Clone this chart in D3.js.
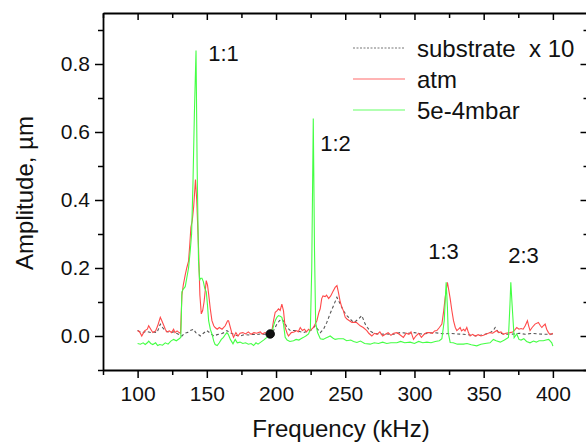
<!DOCTYPE html>
<html>
<head>
<meta charset="utf-8">
<script src="https://cdn.jsdelivr.net/npm/d3@7"></script>
<style>
  body { margin: 0; background: #fff; }
  svg { font-family: "Liberation Sans", Arial, sans-serif; }
</style>
</head>
<body>
<div id="chart"></div>
<script>
// Frequency (kHz) / amplitude (um)
const subFreq = [100, 102, 104, 106, 108, 110, 112, 114, 115.5, 116.4, 118, 120, 122, 124, 126, 128, 130, 132, 134, 136, 138, 140.4, 142, 143.5, 145.3, 147.5, 150, 152.5, 155, 157.5, 160, 162.5, 164.5, 166.5, 168.9, 171, 174, 177, 180, 183, 186, 189, 192, 195, 198.2, 200.6, 202.5, 204.2, 206, 208, 210.3, 213, 216, 219.9, 222.5, 225, 228.3, 230, 232, 234.3, 236.7, 239, 241.5, 244, 246.4, 248.7, 251.2, 253.5, 256, 258, 260, 262, 264.4, 266, 268, 271, 275, 280, 285, 289.7, 295, 300, 305, 310, 313.7, 318, 322, 326, 330, 335.4, 340, 345, 350, 354.6, 357, 358.3, 360.7, 364, 368, 372, 376, 380, 385, 390, 395, 400];
const subAmp = [0.016, 0.012, 0.01, 0.014, 0.012, 0.01, 0.012, 0.01, 0.025, 0.035, 0.025, 0.016, 0.012, 0.01, 0.012, 0.008, 0.004, 0.0, 0.008, 0.01, 0.016, 0.02, 0.01, 0.006, 0.0, 0.008, 0.016, 0.008, 0.0, 0.004, 0.006, 0.01, 0.016, 0.01, 0.006, 0.002, 0.0, 0.004, 0.003, 0.005, 0.004, 0.006, 0.005, 0.004, 0.016, 0.035, 0.045, 0.05, 0.04, 0.025, 0.016, 0.016, 0.014, 0.01, 0.014, 0.016, 0.03, 0.02, 0.01, 0.02, 0.04, 0.065, 0.089, 0.114, 0.094, 0.074, 0.06, 0.05, 0.04, 0.045, 0.052, 0.06, 0.035, 0.025, 0.014, 0.008, 0.005, 0.006, 0.005, 0.01, 0.008, 0.01, 0.006, 0.008, 0.01, 0.008, 0.006, 0.008, 0.006, 0.005, 0.003, 0.0, 0.004, 0.01, 0.016, 0.025, 0.01, 0.006, 0.005, 0.006, 0.008, 0.005, 0.008, 0.006, 0.005, 0.006];

const atmFreq = [100, 101.5, 103, 105, 107, 108, 109.5, 111, 113, 114.5, 116.4, 117.5, 119, 120, 121, 123, 124.5, 126, 127, 128.5, 130, 131, 132, 133, 134.4, 135.5, 136.8, 137.7, 138.5, 139.5, 140.5, 141.8, 142.7, 144, 145, 146, 147, 148, 149.6, 150.5, 151.3, 152.5, 153.7, 155, 156, 157.5, 159, 161, 163.3, 165, 165.7, 167, 168, 169.3, 171, 172.5, 174, 176, 178, 180, 182, 184, 186, 188.6, 190, 192, 194, 195.8, 197, 198.2, 199.4, 200.6, 201.8, 203, 204.2, 205.4, 206.6, 208, 209, 211, 213, 215, 216, 217.5, 219, 220.5, 222, 223.5, 224.7, 227, 229.5, 231, 231.9, 233, 233.9, 235.5, 236.5, 238, 239.5, 241, 242.7, 244, 245, 246.4, 247.5, 248.7, 250, 251.2, 253, 254.8, 256.5, 258, 260.8, 263, 265.6, 267, 269.2, 271, 273, 275, 277, 279, 281, 283, 285, 287.3, 289, 292, 294, 296, 297.5, 299.3, 301, 303, 305, 307, 309, 311.3, 313, 314.5, 316.2, 318, 319.8, 321, 322.2, 323.8, 325, 325.8, 327, 328.2, 329.5, 330.6, 331.8, 333, 334, 335.5, 336.5, 337.8, 339, 340.2, 342, 344, 346, 348, 349.8, 352, 354.6, 356.5, 359.4, 361, 362.5, 364.2, 366, 369, 371, 372.5, 373.9, 375.5, 377, 378.5, 380, 381.6, 382.5, 383.5, 385, 387.1, 389.5, 391, 392, 393, 394.4, 395.5, 396.8, 398, 400];
const atmAmp = [0.016, 0.012, 0.0, 0.015, 0.02, 0.03, 0.02, 0.01, 0.015, 0.03, 0.055, 0.045, 0.03, 0.02, 0.012, 0.015, 0.01, 0.02, 0.01, 0.015, 0.01, 0.008, 0.12, 0.15, 0.18, 0.2, 0.22, 0.27, 0.32, 0.34, 0.38, 0.46, 0.4, 0.26, 0.12, 0.065, 0.075, 0.1, 0.163, 0.15, 0.124, 0.08, 0.045, 0.03, 0.025, 0.02, 0.025, 0.02, 0.03, 0.045, 0.045, 0.025, 0.01, -0.004, 0.01, 0.0, 0.008, 0.01, 0.006, 0.012, 0.005, 0.01, 0.008, 0.012, 0.006, 0.01, 0.006, 0.006, 0.015, 0.045, 0.07, 0.074, 0.08, 0.075, 0.094, 0.074, 0.025, 0.008, 0.0, 0.01, 0.012, 0.016, 0.012, 0.025, 0.016, 0.02, 0.012, 0.02, 0.016, 0.025, 0.045, 0.07, 0.08, 0.11, 0.118, 0.116, 0.12, 0.11, 0.118, 0.13, 0.143, 0.148, 0.13, 0.1, 0.085, 0.074, 0.055, 0.05, 0.045, 0.04, 0.04, 0.04, 0.03, 0.025, 0.016, 0.008, 0.0, 0.008, 0.005, 0.012, 0.0, 0.005, 0.01, 0.002, 0.008, 0.01, 0.005, -0.004, 0.008, 0.005, 0.012, -0.01, 0.0, 0.008, -0.004, 0.005, 0.01, 0.01, 0.008, 0.015, 0.016, 0.025, 0.035, 0.07, 0.114, 0.158, 0.13, 0.11, 0.075, 0.045, 0.025, 0.016, 0.02, 0.025, 0.015, 0.02, 0.015, 0.025, 0.01, 0.0, 0.005, 0.0, 0.004, 0.0, 0.002, 0.006, 0.01, 0.008, 0.016, 0.01, 0.012, 0.005, 0.008, 0.01, 0.012, 0.018, 0.025, 0.02, 0.022, 0.02, 0.03, 0.045, 0.03, 0.016, 0.025, 0.035, 0.04, 0.03, 0.025, 0.03, 0.035, 0.02, 0.01, 0.004, 0.008];

const lowFreq = [100, 102, 104, 105.5, 107, 108, 109.5, 111, 113, 114.5, 116, 118, 120, 122, 124, 126, 128, 130, 131.2, 132, 133, 134.4, 135.5, 136.8, 138, 139, 140, 141, 142.2, 143, 144, 144.8, 145.5, 146.5, 147.5, 148.5, 149.6, 150.5, 151.3, 152.5, 153.7, 155, 156, 157.5, 159, 160.5, 162, 163.5, 164.5, 165.5, 167, 168.9, 170.5, 172, 174, 176, 178, 180, 182, 183.8, 185.5, 187, 189, 191, 193.4, 195, 197, 198.2, 199.4, 200.6, 201.8, 203, 204.2, 205.4, 206.6, 208, 210, 212.6, 214.5, 216.5, 218, 219.9, 221.5, 223.5, 224.8, 225.8, 226.9, 227.8, 228.6, 230, 232, 234, 236, 238, 239.1, 241, 242.7, 245, 248.7, 251, 254, 256, 258.4, 261, 264, 268, 271, 274, 277, 280, 283, 287.3, 290, 293, 296.9, 300, 303, 306, 309, 312, 315, 318, 319.8, 321.5, 322.9, 323.8, 324.4, 325.8, 328, 331, 335.4, 338, 341, 345, 348, 351, 354.6, 357, 359, 362, 365, 367.9, 369, 369.6, 370.5, 372, 373.9, 375.5, 377, 379, 381, 383.5, 386, 388, 390, 393.1, 395, 397, 399.2, 400];
const lowAmp = [-0.022, -0.024, -0.02, -0.025, -0.02, -0.015, -0.022, -0.025, -0.02, -0.028, -0.025, -0.027, -0.02, -0.024, -0.015, -0.01, -0.014, -0.008, -0.004, 0.13, 0.138, 0.145, 0.17, 0.2, 0.25, 0.3, 0.45, 0.65, 0.84, 0.5, 0.22, 0.163, 0.17, 0.17, 0.16, 0.14, 0.13, 0.09, 0.045, 0.02, 0.006, -0.015, -0.025, -0.028, -0.02, -0.01, -0.004, 0.005, 0.01, 0.005, -0.01, -0.023, -0.01, -0.02, -0.018, -0.022, -0.02, -0.024, -0.022, -0.028, -0.02, -0.024, -0.018, -0.012, -0.004, 0.002, 0.01, 0.03, 0.045, 0.055, 0.06, 0.058, 0.055, 0.035, -0.004, -0.012, -0.016, -0.014, -0.01, -0.012, -0.008, -0.004, 0.0, 0.006, 0.02, 0.2, 0.64, 0.25, 0.04, 0.01, -0.008, -0.01, -0.006, -0.002, 0.0, -0.006, -0.01, -0.008, -0.008, -0.014, -0.012, -0.016, -0.019, -0.015, -0.022, -0.024, -0.02, -0.022, -0.018, -0.022, -0.02, -0.02, -0.016, -0.02, -0.018, -0.022, -0.016, -0.02, -0.018, -0.02, -0.016, -0.014, -0.008, 0.045, 0.158, 0.085, 0.01, -0.019, -0.02, -0.024, -0.024, -0.022, -0.026, -0.029, -0.024, -0.022, -0.02, -0.01, -0.014, -0.018, -0.012, -0.004, 0.094, 0.158, 0.094, -0.005, 0.006, -0.01, -0.012, -0.008, -0.016, -0.02, -0.015, -0.018, -0.014, -0.014, -0.012, -0.01, -0.02, -0.03];

const dotFreq = [195.8];
const dotAmp = [0.006];

const seriesNames = ["substrate  x 10", "atm", "5e-4mbar"];

const peakLabels = ["1:1", "1:2", "1:3", "2:3"];
const peakFreq = [151, 231.9, 309.9, 367.7];
const peakAmp = [0.81, 0.545, 0.227, 0.216];

const xMajor = [100, 150, 200, 250, 300, 350, 400];
const xMinor = [75, 125, 175, 225, 275, 325, 375, 425];
const yMajor = [0.0, 0.2, 0.4, 0.6, 0.8];
const yMinor = [-0.1, 0.1, 0.3, 0.5, 0.7, 0.9];

function zip(xs, ys) {
    return xs.map(function(x, i) { return {f: x, a: ys[i]}; });
}

const width = 586;
const height = 442;

const svg = d3.select("#chart")
    .append("svg")
    .attr("width", width)
    .attr("height", height);

const xScale = d3.scaleLinear()
    .domain([75, 425])
    .range([103, 587.5]);

const yScale = d3.scaleLinear()
    .domain([-0.1, 0.95])
    .range([370, 13]);

const plotTop = yScale(0.95);
const plotBottom = yScale(-0.1);

// series lines
const line = d3.line()
    .x(function(d) { return xScale(d.f); })
    .y(function(d) { return yScale(d.a); });

svg.append("path")
    .datum(zip(subFreq, subAmp))
    .attr("d", line)
    .attr("fill", "none")
    .attr("stroke", "#555")
    .attr("stroke-width", 1.1)
    .attr("stroke-dasharray", "3,2.5");

svg.append("path")
    .datum(zip(atmFreq, atmAmp))
    .attr("d", line)
    .attr("fill", "none")
    .attr("stroke", "#ff4a4a")
    .attr("stroke-width", 1.1);

svg.append("path")
    .datum(zip(lowFreq, lowAmp))
    .attr("d", line)
    .attr("fill", "none")
    .attr("stroke", "#44ff44")
    .attr("stroke-width", 1.1);

svg.selectAll("circle.dot")
    .data(zip(dotFreq, dotAmp))
    .enter()
    .append("circle")
        .attr("class", "dot")
        .attr("cx", function(d) { return xScale(d.f); })
        .attr("cy", function(d) { return yScale(d.a); })
        .attr("r", 4.3)
        .attr("fill", "#111")
        .attr("stroke", "#000")
        .attr("stroke-width", 0.8);

// axes
function styleAxis(g) {
    g.select(".domain").attr("stroke", "#000").attr("stroke-width", 1.8);
    g.selectAll(".tick line").attr("stroke", "#000").attr("stroke-width", 1.5);
    g.selectAll("text").attr("font-size", 21).attr("fill", "#111")
        .attr("font-family", "'Liberation Sans', Arial, sans-serif");
}

const bottomG = svg.append("g").attr("transform", "translate(0," + plotBottom + ")");
bottomG.call(d3.axisBottom(xScale).tickValues(xMinor).tickSize(5).tickFormat("").tickSizeOuter(0));
bottomG.append("g").call(d3.axisBottom(xScale).tickValues(xMajor).tickSize(8).tickPadding(8).tickFormat(d3.format("d")).tickSizeOuter(0));
styleAxis(bottomG);

const topG = svg.append("g").attr("transform", "translate(0," + plotTop + ")");
topG.call(d3.axisTop(xScale).tickValues(xMinor).tickSize(-5).tickFormat("").tickSizeOuter(0));
topG.append("g").call(d3.axisTop(xScale).tickValues(xMajor).tickSize(-7).tickFormat("").tickSizeOuter(0));
styleAxis(topG);

const leftG = svg.append("g").attr("transform", "translate(" + xScale(75) + ",0)");
leftG.call(d3.axisLeft(yScale).tickValues(yMinor).tickSize(5).tickFormat("").tickSizeOuter(0));
leftG.append("g").call(d3.axisLeft(yScale).tickValues(yMajor).tickSize(8).tickPadding(5).tickFormat(d3.format(".1f")).tickSizeOuter(0));
styleAxis(leftG);

const rightG = svg.append("g").attr("transform", "translate(" + xScale(425) + ",0)");
rightG.call(d3.axisRight(yScale).tickValues(yMinor).tickSize(-4).tickFormat("").tickSizeOuter(0));
rightG.append("g").call(d3.axisRight(yScale).tickValues(yMajor).tickSize(-7).tickFormat("").tickSizeOuter(0));
styleAxis(rightG);

// axis titles
svg.append("text")
    .attr("x", 341)
    .attr("y", 437)
    .attr("text-anchor", "middle")
    .attr("font-size", 24)
    .attr("fill", "#111")
    .text("Frequency (kHz)");

svg.append("text")
    .attr("transform", "translate(33,193) rotate(-90)")
    .attr("text-anchor", "middle")
    .attr("font-size", 24)
    .attr("fill", "#111")
    .text("Amplitude, \u00b5m");

// peak labels
svg.selectAll("text.peak")
    .data(peakLabels)
    .enter()
    .append("text")
        .attr("class", "peak")
        .attr("x", function(d, i) { return xScale(peakFreq[i]); })
        .attr("y", function(d, i) { return yScale(peakAmp[i]); })
        .attr("font-size", 22)
        .attr("fill", "#111")
        .text(function(d) { return d; });

// legend
const legendColors = ["#777", "#ff6a6a", "#66ff66"];
const legendDash = ["2,1.5", null, null];
const legend = svg.append("g").attr("transform", "translate(353,48)");

seriesNames.forEach(function(name, i) {
    legend.append("line")
        .attr("x1", 0)
        .attr("x2", 52)
        .attr("y1", i * 31)
        .attr("y2", i * 31)
        .attr("stroke", legendColors[i])
        .attr("stroke-width", 1.2)
        .attr("stroke-dasharray", legendDash[i]);
    legend.append("text")
        .attr("x", 64)
        .attr("y", i * 31 + 8.5)
        .attr("font-size", 24)
        .attr("fill", "#111")
        .style("white-space", "pre")
        .attr("xml:space", "preserve")
        .text(name);
});
</script>
</body>
</html>
